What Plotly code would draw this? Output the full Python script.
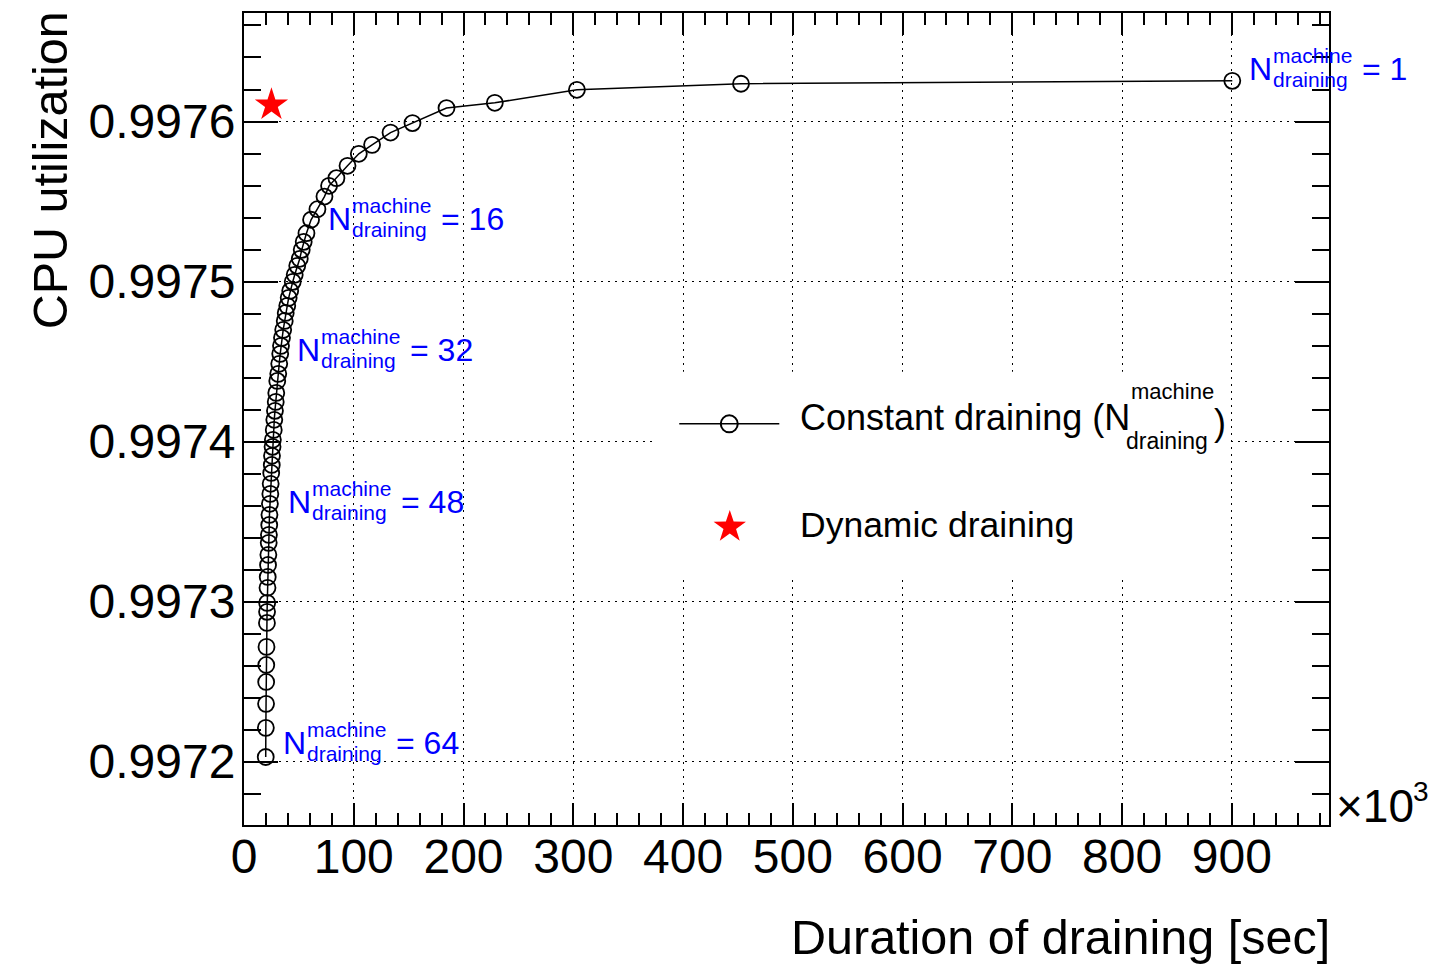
import math
import plotly.graph_objects as go

# ---------------- data ----------------
n_machines = list(range(1, 65))

duration_ksec = [900.4, 452.8, 303.3, 228.5, 184.5, 153.5, 133.5, 116.7, 104.6, 94.3,
                 84.2, 77.5, 73.3, 66.9, 61.1, 56.9, 54.4, 52.6, 50.8, 48.5,
                 46.2, 44.4, 42.1, 40.7, 39.4, 38.0, 37.1, 35.7, 34.6, 33.7,
                 33.0, 32.1, 31.2, 30.3, 29.4, 28.9, 28.2, 27.6, 27.1, 26.3,
                 26.0, 25.5, 25.3, 24.8, 24.3, 24.0, 23.6, 23.2, 23.0, 22.7,
                 22.5, 22.2, 21.9, 21.6, 21.4, 21.1, 21.0, 20.9, 20.5, 20.3,
                 20.2, 20.1, 19.9, 19.8]

cpu_util = [0.9976254, 0.9976236, 0.9976198, 0.9976117, 0.9976084, 0.9975990, 0.9975931, 0.9975854, 0.9975798, 0.9975723,
            0.9975646, 0.9975598, 0.9975531, 0.9975452, 0.9975386, 0.9975302, 0.9975248, 0.9975198, 0.9975142, 0.9975098,
            0.9975042, 0.9974998, 0.9974942, 0.9974898, 0.9974848, 0.9974804, 0.9974754, 0.9974698, 0.9974648, 0.9974598,
            0.9974548, 0.9974486, 0.9974423, 0.9974379, 0.9974304, 0.9974248, 0.9974192, 0.9974136, 0.9974073, 0.9974011,
            0.9973967, 0.9973911, 0.9973854, 0.9973804, 0.9973736, 0.9973673, 0.9973611, 0.9973542, 0.9973479, 0.9973417,
            0.9973367, 0.9973292, 0.9973229, 0.9973154, 0.9973086, 0.9972992, 0.9972936, 0.9972867, 0.9972717, 0.9972604,
            0.9972498, 0.9972361, 0.9972211, 0.9972029]

dynamic_duration_ksec = [25.0]
dynamic_cpu_util = [0.9976104]

labelled_n = [1, 16, 32, 48, 64]

x_range = [0, 988.5]
y_range = [0.9971604, 0.9976678]

# ---------------- layout helpers ----------------
W, H = 1434, 964
PL, PR, PT, PB = 244.3, 1328.7, 13.3, 825.0
FONT = "Liberation Sans, Arial, Helvetica, sans-serif"


def fx(px):
    return (px - PL) / (PR - PL)


def fy(py):
    return (PB - py) / (PB - PT)


def txt(s, px, py, size, color="black", xanchor="left", yanchor="middle", angle=0):
    return dict(text=s, x=fx(px), y=fy(py), xref="paper", yref="paper",
                xanchor=xanchor, yanchor=yanchor, showarrow=False, borderpad=0,
                textangle=angle, font=dict(family=FONT, size=size, color=color))


fig = go.Figure()

fig.add_trace(go.Scatter(
    x=duration_ksec, y=cpu_util, mode="lines+markers",
    line=dict(color="black", width=1.5),
    marker=dict(symbol="circle-open", size=16, color="black", line=dict(width=1.8, color="black")),
    showlegend=False, hoverinfo="skip"))

fig.add_trace(go.Scatter(
    x=dynamic_duration_ksec, y=dynamic_cpu_util, mode="markers",
    marker=dict(symbol="star", size=25, color="red", line=dict(width=0)),
    showlegend=False, hoverinfo="skip"))

annotations = []
# labels N^machine_draining = k next to selected points (pixel positions of the text)
label_pos = {1: (1248, 69), 16: (327.3, 219), 32: (296.7, 350), 48: (287, 502), 64: (282.7, 743)}
for k in labelled_n:
    lx, ly = label_pos[k]
    annotations.append(txt("N", lx, ly, 32, "blue"))
    annotations.append(txt("machine", lx + 24, ly - 13, 21, "blue"))
    annotations.append(txt("draining", lx + 24, ly + 11, 21, "blue"))
    annotations.append(txt("= %d" % k, lx + 113, ly, 32, "blue"))

# legend texts
annotations.append(txt("Constant draining (N", 799, 418, 36))
annotations.append(txt("machine", 1129.5, 392, 22))
annotations.append(txt("draining", 1124.5, 441, 23))
annotations.append(txt(")", 1212.5, 423, 36))
annotations.append(txt("Dynamic draining", 799, 525, 35.5))

# axis titles and exponent
annotations.append(txt("CPU utilization", 50, 11, 48.5, xanchor="center", yanchor="top", angle=-90))
annotations.append(txt("Duration of draining [sec]", 1331, 937, 48.5, xanchor="right"))
annotations.append(txt("×10", 1335, 806, 46))
annotations.append(txt("3", 1412, 792, 28))

# legend box and samples
R_out, R_in = 17.0, 6.6
star_pts = []
for i in range(10):
    ang = math.pi / 2 + i * math.pi / 5
    r = R_out if i % 2 == 0 else R_in
    star_pts.append((r * math.cos(ang), r * math.sin(ang)))
star_path = "M " + " L ".join("%.2f,%.2f" % p for p in star_pts) + " Z"

shapes = [
    dict(type="rect", xref="paper", yref="paper", x0=fx(657), x1=fx(1227), y0=fy(578), y1=fy(372),
         fillcolor="white", line=dict(width=0), layer="above"),
    dict(type="line", xref="paper", yref="paper", x0=fx(679.3), x1=fx(779.3), y0=fy(424), y1=fy(424),
         line=dict(color="black", width=1.5), layer="above"),
    dict(type="circle", xref="paper", yref="paper", xsizemode="pixel", ysizemode="pixel",
         xanchor=fx(729.3), yanchor=fy(424), x0=-8.5, x1=8.5, y0=-8.5, y1=8.5,
         line=dict(color="black", width=2), fillcolor="rgba(0,0,0,0)", layer="above"),
    dict(type="path", xref="paper", yref="paper", xsizemode="pixel", ysizemode="pixel",
         xanchor=fx(729.8), yanchor=fy(527), path=star_path,
         fillcolor="red", line=dict(width=0), layer="above"),
]

axis_common = dict(
    ticks="inside", tickwidth=2, tickcolor="black",
    showline=True, linewidth=2, linecolor="black", mirror="allticks",
    showgrid=True, gridcolor="black", gridwidth=1.3, griddash="2px,5px",
    zeroline=False, tickfont=dict(family=FONT, size=48, color="black"),
)

fig.update_layout(
    width=W, height=H,
    margin=dict(l=PL, r=W - PR, t=PT, b=H - PB, pad=0),
    paper_bgcolor="white", plot_bgcolor="white",
    showlegend=False,
    xaxis=dict(range=x_range, tick0=0, dtick=100, ticklen=22, ticklabelstandoff=-12,
               minor=dict(dtick=20, ticks="inside", ticklen=12, tickwidth=2, tickcolor="black", showgrid=False),
               **axis_common),
    yaxis=dict(range=y_range, tick0=0.9972, dtick=0.0001, tickformat=".4f", ticklen=34, ticklabelstandoff=-3,
               minor=dict(dtick=0.00002, ticks="inside", ticklen=17, tickwidth=2, tickcolor="black", showgrid=False),
               **axis_common),
    annotations=annotations,
    shapes=shapes,
)

fig.write_html("out.html", config={"displayModeBar": False},
               post_script="document.body.style.margin='0px';")
